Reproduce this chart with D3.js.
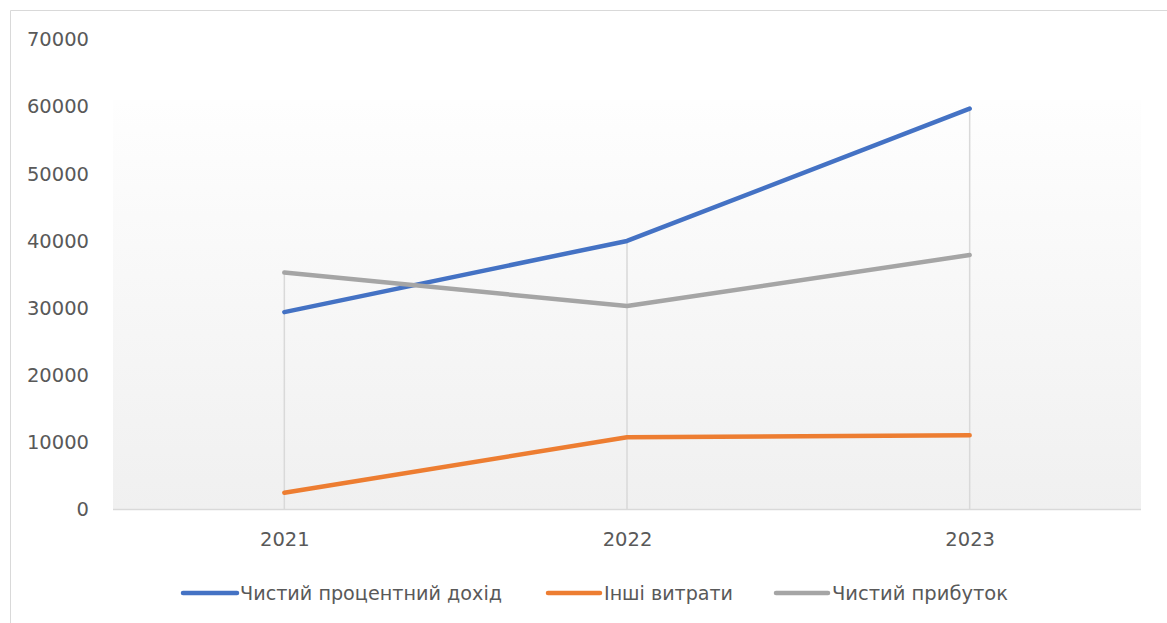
<!DOCTYPE html>
<html>
<head>
<meta charset="utf-8">
<script src="https://cdn.jsdelivr.net/npm/d3@7"></script>
<style>
html,body{margin:0;padding:0;background:#fff;}
svg{display:block;}
text{font-family:"DejaVu Sans",sans-serif;fill:#595959;}
</style>
</head>
<body>
<svg id="chart" width="1167" height="623"></svg>
<script>
const years = ["2021", "2022", "2023"];
const seriesNames = ["Чистий процентний дохід", "Інші витрати", "Чистий прибуток"];
const netInterestIncome = [29400, 40000, 59700];
const otherExpenses = [2500, 10750, 11050];
const netProfit = [35300, 30300, 37900];
const yTicks = [0, 10000, 20000, 30000, 40000, 50000, 60000, 70000];
const colors = ["#4472C4", "#ED7D31", "#A5A5A5"];

const series = [
  {name: seriesNames[0], values: netInterestIncome, color: colors[0]},
  {name: seriesNames[1], values: otherExpenses, color: colors[1]},
  {name: seriesNames[2], values: netProfit, color: colors[2]}
];

const svg = d3.select("#chart");
const W = 1167, H = 623;
const plot = {left: 113, right: 1141, top: 39.5, bottom: 509.5, bgTop: 100};

// chart border
svg.append("path").attr("d", `M10.5,${H} L10.5,10.5 L${W},10.5`)
  .attr("fill", "none").attr("stroke", "#d9d9d9").attr("stroke-width", 1);

const defs = svg.append("defs");
const grad = defs.append("linearGradient").attr("id", "bg").attr("x1", 0).attr("y1", 0).attr("x2", 0).attr("y2", 1);
grad.append("stop").attr("offset", "0%").attr("stop-color", "#fefefe");
grad.append("stop").attr("offset", "100%").attr("stop-color", "#f0f0f0");

const x = d3.scalePoint().domain(years).range([plot.left, plot.right]).padding(0.5);
const y = d3.scaleLinear().domain([0, 70000]).range([plot.bottom, plot.top]);

svg.append("rect").attr("x", plot.left).attr("y", plot.bgTop)
  .attr("width", plot.right - plot.left).attr("height", plot.bottom - plot.bgTop)
  .attr("fill", "url(#bg)");

// vertical drop lines at categories
svg.append("g").selectAll("line").data(years).join("line")
  .attr("x1", d => x(d)).attr("x2", d => x(d))
  .attr("y1", d => y(Math.min(...series.map(s => s.values[years.indexOf(d)]))))
  .attr("y1", d => y(Math.max(...series.map(s => s.values[years.indexOf(d)]))))
  .attr("y2", plot.bottom)
  .attr("stroke", "#d9d9d9").attr("stroke-width", 1.5);

// x axis line
const xAxis = d3.axisBottom(x).tickSize(0).tickPadding(20);
const gx = svg.append("g").attr("transform", `translate(0,${plot.bottom})`).call(xAxis);
gx.select(".domain").attr("d", `M${plot.left},0H${plot.right}`).attr("stroke", "#d9d9d9").attr("stroke-width", 1.5);
gx.selectAll("text").attr("font-size", 19.5).attr("font-family", "DejaVu Sans").attr("fill", "#595959").attr("dy", "0.71em").attr("y", 23);

// y axis labels
const yAxis = d3.axisLeft(y).tickValues(yTicks).tickSize(0).tickPadding(0).tickFormat(d3.format("d"));
const gy = svg.append("g").attr("transform", `translate(89,0)`).call(yAxis);
gy.select(".domain").remove();
gy.selectAll("text").attr("font-size", 19.5).attr("font-family", "DejaVu Sans").attr("fill", "#595959");

// lines
const line = d3.line().x((d, i) => x(years[i])).y(d => y(d));
svg.append("g").selectAll("path").data(series).join("path")
  .attr("d", d => line(d.values))
  .attr("fill", "none").attr("stroke", d => d.color).attr("stroke-width", 4.5)
  .attr("stroke-linecap", "round").attr("stroke-linejoin", "round");

// legend
const legendY = 593;
const legendItems = [
  {x0: 183, x1: 237, tx: 240, tw: 262},
  {x0: 548, x1: 600, tx: 604, tw: 129},
  {x0: 776, x1: 828, tx: 832, tw: 176}
];
const lg = svg.append("g").selectAll("g").data(series).join("g");
lg.append("line")
  .attr("x1", (d, i) => legendItems[i].x0).attr("x2", (d, i) => legendItems[i].x1)
  .attr("y1", legendY).attr("y2", legendY)
  .attr("stroke", d => d.color).attr("stroke-width", 4.5).attr("stroke-linecap", "round");
lg.append("text")
  .attr("x", (d, i) => legendItems[i].tx).attr("y", legendY).attr("dy", "0.35em")
  .attr("font-size", 20)
  .attr("textLength", (d, i) => legendItems[i].tw).attr("lengthAdjust", "spacingAndGlyphs")
  .text(d => d.name);
</script>
</body>
</html>
